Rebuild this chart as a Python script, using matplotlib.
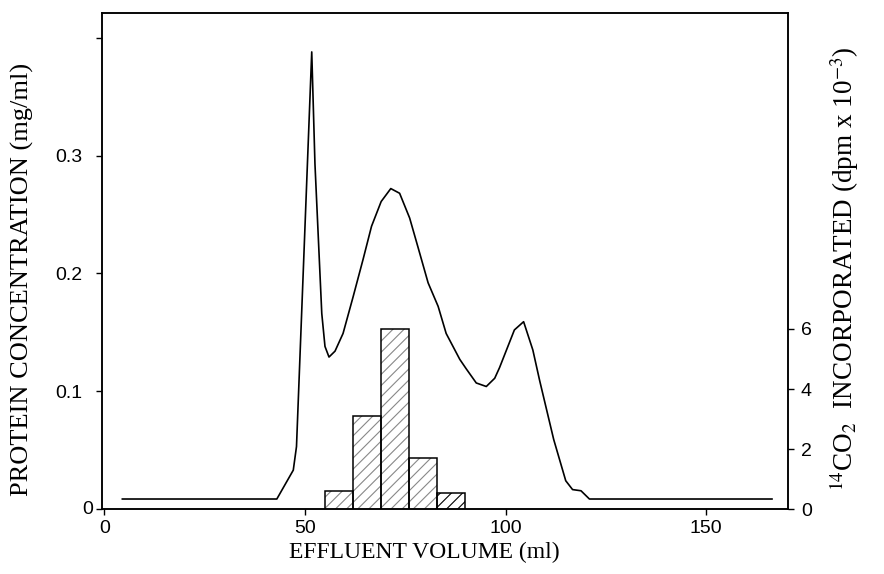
import numpy as np
import matplotlib.pyplot as plt

# protein elution profile (ml, mg/ml)
vol = [4.5, 43.0, 47.1, 47.9, 51.7, 52.5, 54.2, 55.0, 56.0, 57.5, 59.5, 62.0,
       64.5, 66.6, 69.0, 71.4, 73.6, 76.1, 78.2, 80.7, 83.2, 85.2, 88.6, 90.2,
       92.7, 95.2, 97.3, 98.5, 102.2, 104.5, 106.8, 108.5, 112.0, 115.0, 116.7,
       118.8, 120.9, 166.4]
protein = [0.0085, 0.0085, 0.033, 0.053, 0.388, 0.293, 0.166, 0.138, 0.129, 0.134,
           0.149, 0.180, 0.212, 0.240, 0.261, 0.272, 0.268, 0.247, 0.222, 0.192,
           0.172, 0.149, 0.127, 0.119, 0.107, 0.104, 0.111, 0.120, 0.152, 0.159,
           0.135, 0.109, 0.059, 0.024, 0.0165, 0.0155, 0.0085, 0.0085]

# 14CO2 incorporation per fraction (dpm x 10^-3)
frac_start = [55, 62, 69, 76, 83]
frac_width = 7
co2 = [0.6, 3.1, 6.0, 1.7, 0.55]

left_ticks = [0, 0.1, 0.2, 0.3, 0.4]
left_labels = ['', '0.1', '0.2', '0.3', '']
right_ticks = [0, 2, 4, 6]
x_ticks = [0, 50, 100, 150]

plt.rcParams['mathtext.fontset'] = 'stix'
plt.rcParams['hatch.linewidth'] = 0.8
sans = 'Liberation Sans'
serif = 'Liberation Serif'

fig = plt.figure(figsize=(8.84, 5.74), dpi=100)
ax = fig.add_axes([0.1157, 0.1132, 0.7753, 0.8641])

ax.plot(vol, protein, color='black', lw=1.2)
ax.set_xlim(-0.5, 170.3)
ax.set_ylim(0, 0.421)
ax.set_xticks(x_ticks)
ax.set_yticks(left_ticks)
ax.set_yticklabels(left_labels)
for lab in ax.get_xticklabels() + ax.get_yticklabels():
    lab.set_fontfamily(sans)
    lab.set_fontsize(14)
ax.tick_params(direction='out', length=4.5, width=1)
ax.tick_params(axis='y', pad=10)
# the zero on the left axis sits closer to the spine than the other labels
ax.text(-0.013, 0, '0', transform=ax.transAxes, ha='right', va='center',
        fontfamily=sans, fontsize=14)

ax.set_xlabel('EFFLUENT VOLUME (ml)', fontfamily=serif, fontsize=17)
ax.xaxis.set_label_coords(0.47, -0.066)
ax.set_ylabel('PROTEIN CONCENTRATION (mg/ml)', fontfamily=serif, fontsize=19)
ax.yaxis.set_label_coords(-0.10, 0.462)

ax2 = ax.twinx()
# light hatched fill first, black outline on top
ax2.bar(frac_start[:4], co2[:4], width=frac_width, align='edge', color='white',
        edgecolor='#888888', hatch='///', lw=0)
ax2.bar(frac_start[4:], co2[4:], width=frac_width, align='edge', color='white',
        edgecolor='black', hatch='///', lw=0)
ax2.bar(frac_start, co2, width=frac_width, align='edge', fill=False,
        edgecolor='black', lw=1.1)
ax2.set_ylim(0, 16.53)
ax2.set_yticks(right_ticks)
for lab in ax2.get_yticklabels():
    lab.set_fontfamily(sans)
    lab.set_fontsize(14)
ax2.tick_params(direction='out', length=4.5, width=1, pad=5)
ax2.set_ylabel(r'$^{14}$CO$_2$  INCORPORATED (dpm x 10$^{-3}$)',
               fontfamily=serif, fontsize=19.5)
ax2.yaxis.set_label_coords(1.058, 0.484)

for a in (ax, ax2):
    for s in a.spines.values():
        s.set_linewidth(1.1)

fig.savefig('out.png', dpi=100)
